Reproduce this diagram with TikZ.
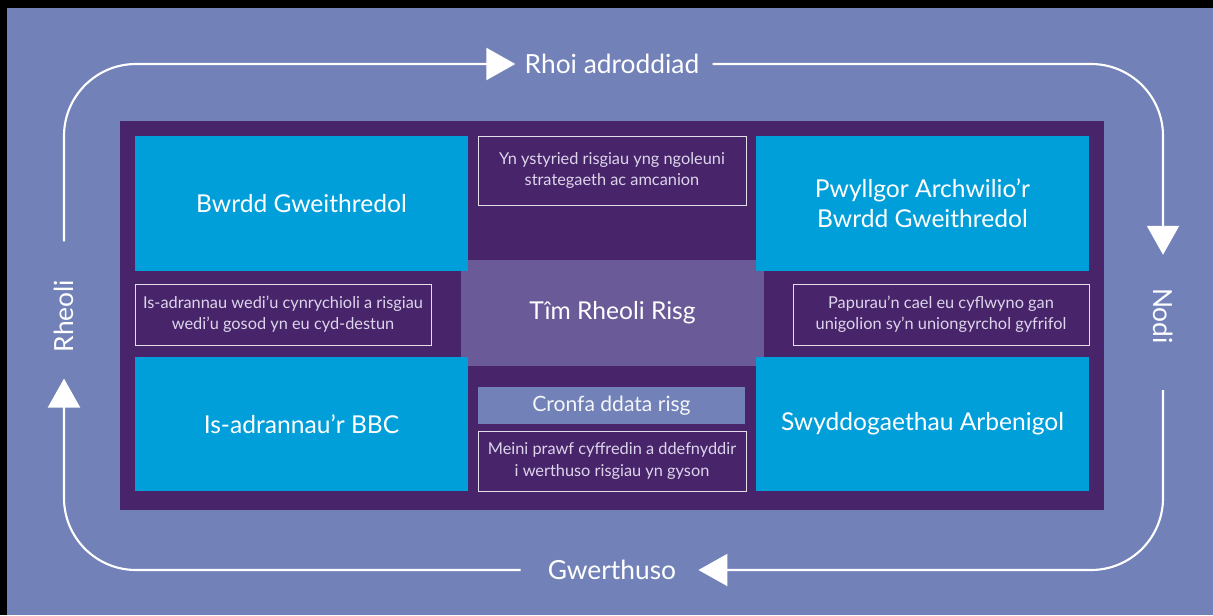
\documentclass[tikz,border=0pt]{standalone}
\usepackage{fontspec}
\setmainfont{Lato}
\usetikzlibrary{arrows.meta, calc}

\definecolor{backdrop}{HTML}{7282B8}
\definecolor{framepurple}{HTML}{48256A}
\definecolor{teampurple}{HTML}{6A5A98}
\definecolor{unitblue}{HTML}{009FDA}
\definecolor{notetext}{HTML}{DDD5EB}

\tikzset{
	loopline/.style = {draw = white, line width = 1.2pt, rounded corners = 1.44cm},
	looplabel/.style = {text = white, inner sep = 0pt, font = \fontsize{15}{18}\selectfont},
	unitbox/.style = {fill = unitblue, text = white, align = center, inner sep = 0pt,
		minimum width = 6.66cm, minimum height = 2.7cm, font = \fontsize{14}{17}\selectfont},
	notebox/.style = {draw = white!85!framepurple, line width = 0.5pt, text = notetext,
		align = center, inner sep = 0pt, font = \fontsize{9.3}{12.2}\selectfont}
}

\begin{document}
\begin{tikzpicture}[x = 0.02cm, y = -0.02cm, > = {Triangle[width = 0.64cm, length = 0.58cm]}]

	% Backdrop

	\fill [black] (0, 0) rectangle (1213, 615);
	\fill [backdrop] (7, 8) rectangle (1213, 615);
	\useasboundingbox (0, 0) rectangle (1213, 615);

	% Frame and risk team

	\fill [framepurple] (120, 121) rectangle (1104, 510);

	\node [fill = teampurple, text = white, inner sep = 0pt, minimum width = 6.06cm,
		minimum height = 2.12cm, font = \fontsize{14}{17}\selectfont]
		(tim) at (612.5, 313) {Tîm Rheoli Risg};

	% Units

	\node [unitbox] (bwrdd) at (301.5, 203.5) {Bwrdd Gweithredol};
	\node [unitbox] (pwyllgor) at (922.5, 203.5) {Pwyllgor Archwilio’r\\Bwrdd Gweithredol};
	\node [unitbox] (isadran) at (301.5, 424) {Is-adrannau’r BBC};
	\node [unitbox] (swydd) at (922.5, 424) {Swyddogaethau Arbenigol};

	% Notes

	\node [notebox, minimum width = 5.36cm, minimum height = 1.38cm] (strategaeth) at (612, 170.5)
		{Yn ystyried risgiau yng ngoleuni\\strategaeth ac amcanion};
	\node [notebox, minimum width = 5.92cm, minimum height = 1.22cm] (cyddestun) at (283, 314.5)
		{Is-adrannau wedi’u cynrychioli a risgiau\\wedi’u gosod yn eu cyd-destun};
	\node [notebox, minimum width = 5.92cm, minimum height = 1.22cm] (papurau) at (941, 314.5)
		{Papurau’n cael eu cyflwyno gan\\unigolion sy’n uniongyrchol gyfrifol};
	\node [fill = backdrop, text = white!92!backdrop, inner sep = 0pt, minimum width = 5.34cm,
		minimum height = 0.74cm, font = \fontsize{12}{14}\selectfont]
		(cronfa) at (611.5, 405.5) {Cronfa ddata risg};
	\node [notebox, minimum width = 5.36cm, minimum height = 1.2cm] (meini) at (612, 461)
		{Meini prawf cyffredin a ddefnyddir\\i werthuso risgiau yn gyson};

	% Cycle

	\node [looplabel] (rhoi) at (612, 64) {Rhoi adroddiad};
	\node [looplabel, rotate = -90] (nodi) at (1163, 316) {Nodi};
	\node [looplabel] (gwerthuso) at (612, 570) {Gwerthuso};
	\node [looplabel, rotate = 90] (rheoli) at (64, 316) {Rheoli};

	\begin{scope}[->]

		\draw [loopline] ($(rheoli.east) + (0, -38)$) |- ($(rhoi.west) + (-9, 0)$);
		\draw [loopline] ($(rhoi.east) + (13, 0)$) -| ($(nodi.west) + (0, -33)$);
		\draw [loopline] ($(nodi.east) + (0, 46)$) |- ($(gwerthuso.east) + (22, 0)$);
		\draw [loopline] ($(gwerthuso.west) + (-27, 0)$) -| ($(rheoli.west) + (0, 26)$);

	\end{scope}

\end{tikzpicture}
\end{document}
